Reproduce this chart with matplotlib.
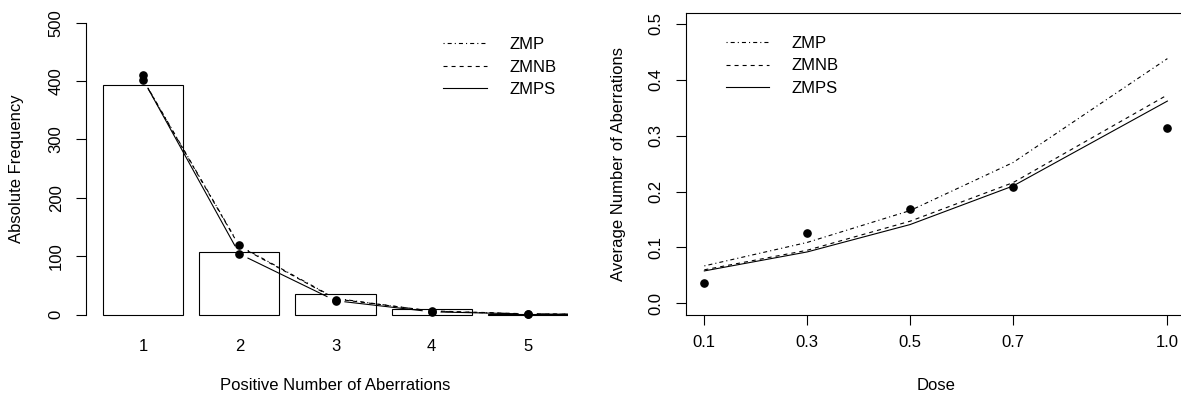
import numpy as np
import matplotlib
matplotlib.use("Agg")
import matplotlib.pyplot as plt
from matplotlib.transforms import blended_transform_factory

# ---- data ----
counts = [1, 2, 3, 4, 5]
count_labels = ["1", "2", "3", "4", "5"]
observed_freq = [393, 108, 35, 9, 1.5]
points_a = [411, 120, 26, 7, 2]
points_b = [402, 104, 24, 4, 1]
# fitted curves, evaluated at 1..6 (last one is cut by the axis)
fit_counts = [1, 2, 3, 4, 5, 6]
zmp_freq = [402, 118, 28, 6, 1.2, 0.2]
zmnb_freq = [401, 117, 27, 6.5, 1.5, 0.3]
zmps_freq = [402, 104, 24, 5, 1.2, 0.3]

dose = [0.1, 0.3, 0.5, 0.7, 1.0]
dose_labels = ["0.1", "0.3", "0.5", "0.7", "1.0"]
avg_obs = [0.037, 0.126, 0.168, 0.208, 0.313]
zmp_avg = [0.067, 0.109, 0.166, 0.252, 0.438]
zmnb_avg = [0.060, 0.095, 0.147, 0.216, 0.373]
zmps_avg = [0.058, 0.092, 0.141, 0.210, 0.362]

plt.rcParams["font.family"] = ["Liberation Sans", "DejaVu Sans"]
plt.rcParams["lines.scale_dashes"] = False
FS = 12
W, H = 1181, 394

styles = {
    "ZMP": dict(linestyle=(0, (0.8, 2.2, 2.9, 2.2))),
    "ZMNB": dict(linestyle=(0, (2.9, 2.9))),
    "ZMPS": dict(linestyle="-"),
}


def px_axes(fig, left, right, top, bottom):
    """Add axes from pixel edges (top measured from the top)."""
    return fig.add_axes([left / W, 1 - bottom / H, (right - left) / W, (bottom - top) / H])


def gapped_lines(ax, x, y, gap=9.5, **kw):
    """Draw lines like R type='b' with gaps around each vertex."""
    pts = ax.transData.transform(np.column_stack([x, y]))
    inv = ax.transData.inverted()
    for p0, p1 in zip(pts[:-1], pts[1:]):
        d = p1 - p0
        n = np.hypot(*d)
        if n <= 2 * gap:
            continue
        u = d / n
        seg = inv.transform(np.array([p0 + u * gap, p1 - u * gap]))
        ax.plot(seg[:, 0], seg[:, 1], color="black", lw=0.8, **kw)


fig = plt.figure(figsize=(W / 100, H / 100), dpi=100)

# ---- left panel ----
ax1 = px_axes(fig, 86, 568, 11, 326.4)
ax1.set_xlim(0.403, 5.42)
ax1.set_ylim(-20, 520)
ax1.bar(counts, observed_freq, width=0.833, color="white", edgecolor="black", lw=0.8)
for name, vals in [("ZMP", zmp_freq), ("ZMNB", zmnb_freq), ("ZMPS", zmps_freq)]:
    gapped_lines(ax1, fit_counts, vals, **styles[name])
ax1.plot(counts, points_a, "o", color="black", ms=5.2)
ax1.plot(counts, points_b, "o", color="black", ms=5.2)

for s in ["top", "right", "bottom"]:
    ax1.spines[s].set_visible(False)
ax1.spines["left"].set_bounds(0, 500)
ax1.spines["left"].set_linewidth(0.8)
ax1.set_yticks([0, 100, 200, 300, 400, 500])
ax1.set_yticklabels(["0", "100", "200", "300", "400", "500"], rotation=90, va="center")
ax1.set_xticks(counts)
ax1.set_xticklabels(count_labels)
ax1.tick_params(axis="y", length=7.5, width=0.8, pad=8.5, labelsize=FS)
ax1.tick_params(axis="x", length=0, pad=9, labelsize=FS)
ax1.set_xlabel("Positive Number of Aberrations", fontsize=FS)
ax1.xaxis.set_label_coords(3, (326.4 - 378) / 315.4,
                           transform=blended_transform_factory(ax1.transData, ax1.transAxes))
ax1.set_ylabel("Absolute Frequency", fontsize=FS, va="center")
ax1.yaxis.set_label_coords((17 - 86) / 482, 0.5)

h1 = [plt.Line2D([], [], color="black", lw=0.8, **styles[n]) for n in styles]
ax1.legend(h1, list(styles), loc="upper left", frameon=False, fontsize=FS,
           bbox_to_anchor=(443.3 / W, 1 - 37 / H), bbox_transform=fig.transFigure,
           borderpad=0, borderaxespad=0, handlelength=2.6, handletextpad=1.35,
           labelspacing=0.45)

# ---- right panel ----
ax2 = px_axes(fig, 685.8, 1185.9, 12.8, 314.5)
ax2.set_xlim(0.064, 1.036)
ax2.set_ylim(-0.02, 0.52)
for name, vals in [("ZMP", zmp_avg), ("ZMNB", zmnb_avg), ("ZMPS", zmps_avg)]:
    ax2.plot(dose, vals, color="black", lw=0.8, **styles[name])
ax2.plot(dose, avg_obs, "o", color="black", ms=5.2)
for s in ax2.spines.values():
    s.set_linewidth(0.8)
ax2.spines["right"].set_visible(False)
ax2.set_xticks(dose)
ax2.set_xticklabels(dose_labels)
ax2.set_yticks([0.0, 0.1, 0.2, 0.3, 0.4, 0.5])
ax2.set_yticklabels(["0.0", "0.1", "0.2", "0.3", "0.4", "0.5"], rotation=90, va="center")
ax2.tick_params(axis="both", length=7.5, width=0.8, labelsize=FS)
ax2.tick_params(axis="x", pad=7.5)
ax2.tick_params(axis="y", pad=8.5)
ax2.set_xlabel("Dose", fontsize=FS)
ax2.xaxis.set_label_coords(0.5, (314.5 - 378) / 301.7)
ax2.set_ylabel("Average Number of Aberrations", fontsize=FS, va="center")
ax2.yaxis.set_label_coords((618 - 685.8) / 500.1, 0.5)

ax2.legend(h1, list(styles), loc="upper left", frameon=False, fontsize=FS,
           bbox_to_anchor=(725.8 / W, 1 - 36 / H), bbox_transform=fig.transFigure,
           borderpad=0, borderaxespad=0, handlelength=2.6, handletextpad=1.35,
           labelspacing=0.45)

fig.savefig("out.png", dpi=100)
